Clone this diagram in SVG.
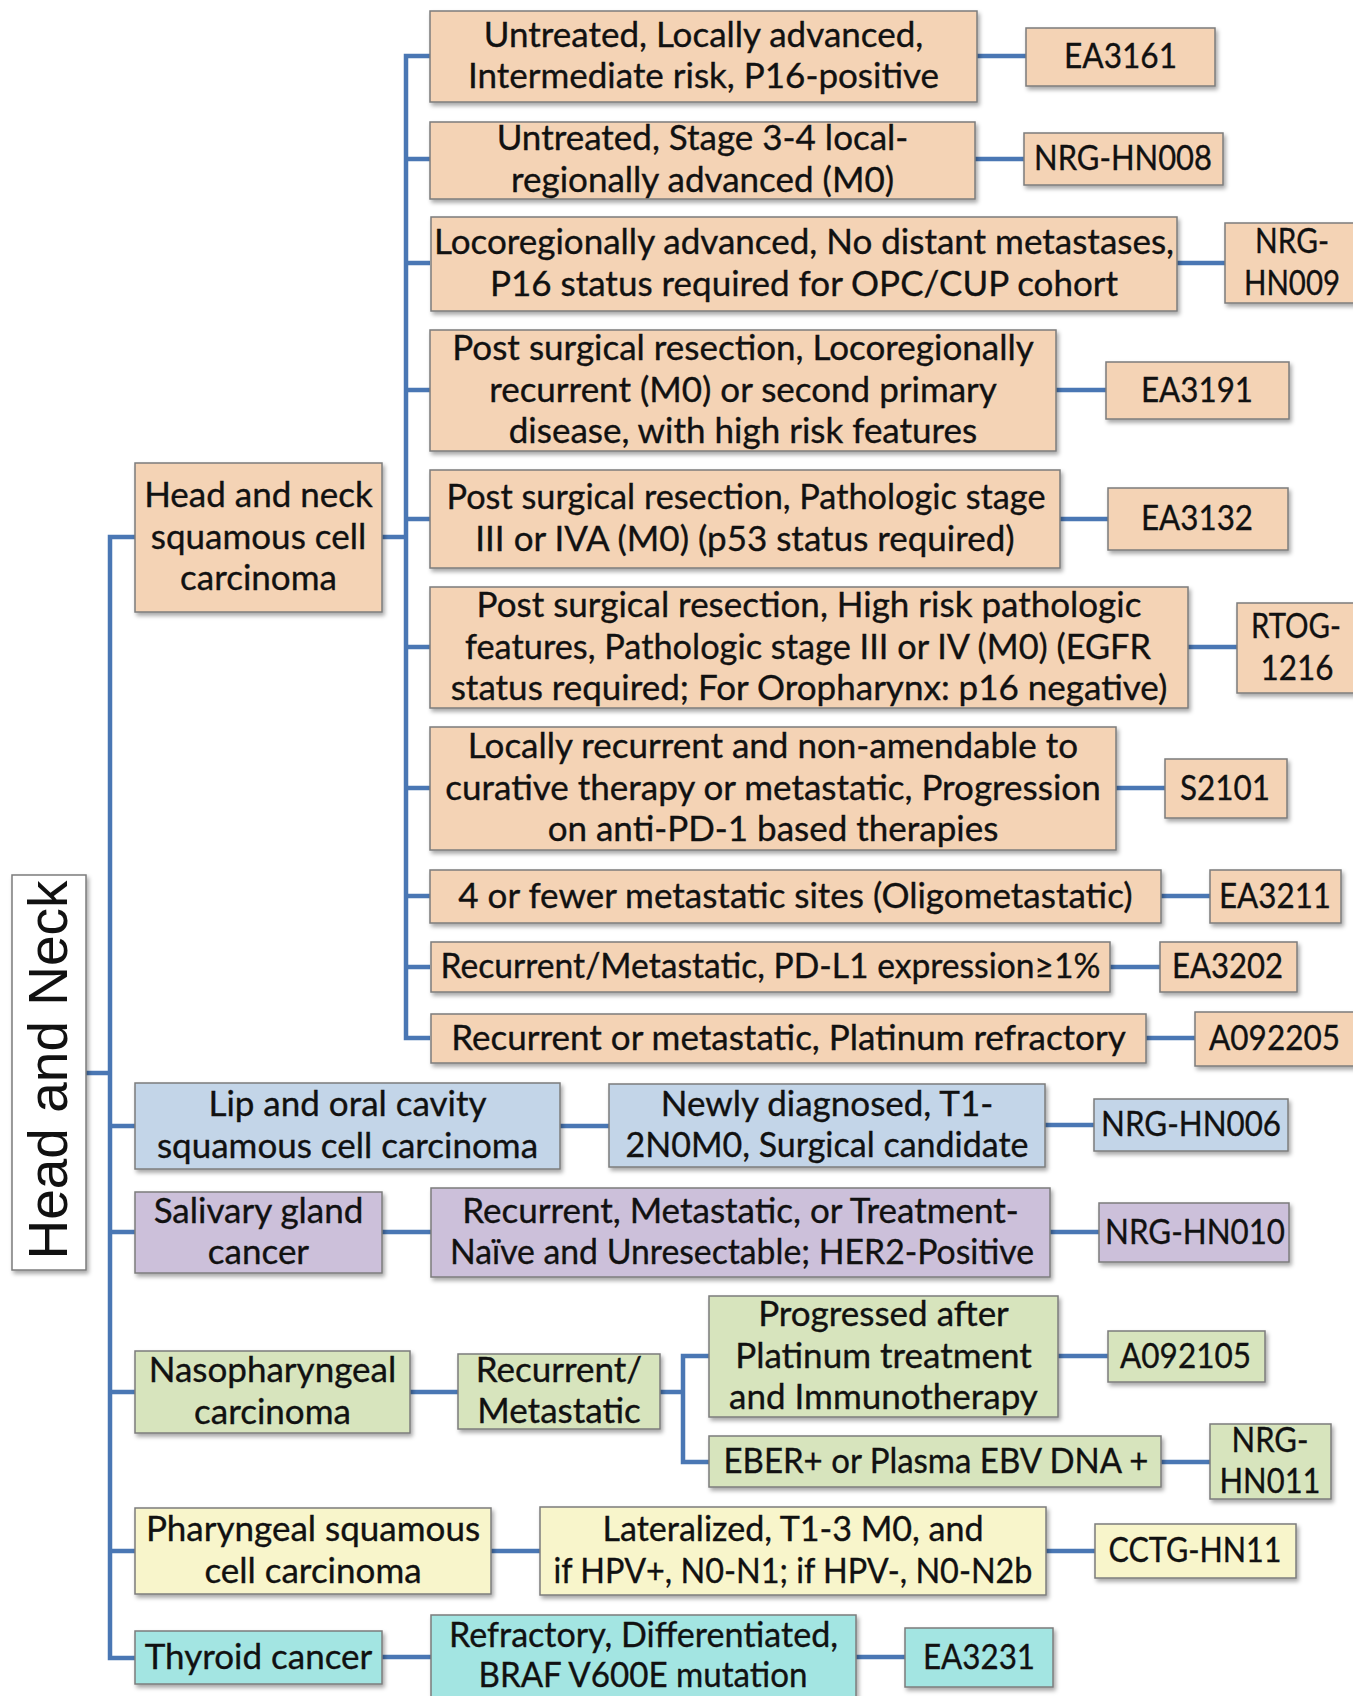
<svg xmlns="http://www.w3.org/2000/svg" width="1353" height="1696" viewBox="0 0 1353 1696">
<defs>
<filter id="sh" x="-10%" y="-10%" width="130%" height="140%">
<feDropShadow dx="2" dy="3" stdDeviation="2" flood-color="#000" flood-opacity="0.35"/>
</filter>
</defs>
<style>
rect{stroke:#7c7c7c;stroke-width:1.5;filter:url(#sh)}
.pe{fill:#F4D3B5}.bl{fill:#C3D5E8}.pu{fill:#CCC0DA}.gr{fill:#D7E4BD}.ye{fill:#F8F5CB}.cy{fill:#A3E5E2}.wh{fill:#FFFFFF}
text{font-family:Lato,"Open Sans",sans-serif;font-size:35px;fill:#111;stroke:#111;stroke-width:0.35px;text-anchor:middle}
.root{font-family:"Liberation Sans",Arial,sans-serif;font-size:55px;stroke:none}
#connectors path{fill:none;stroke:#4A77B4;stroke-width:4.5}
</style>
<rect x="0" y="0" width="1353" height="1696" style="fill:#fff;stroke:none;filter:none"/>
<g id="connectors">
<path d="M86,1073 H110"/>
<path d="M135,537 H110 V1658 H135"/>
<path d="M110,1126 H135 M110,1232 H135 M110,1392 H135 M110,1551 H135"/>
<path d="M382,537 H406"/>
<path d="M430,56 H406 V1038 H430"/>
<path d="M406,159 H430 M406,263 H430 M406,390 H430 M406,519 H430 M406,647 H430 M406,788 H430 M406,896 H430 M406,967 H430"/>
<path d="M977,56 H1026 M975,159 H1024 M1177,263 H1225 M1056,390 H1106 M1060,519 H1108 M1188,647 H1237 M1116,788 H1165 M1161,896 H1210 M1110,967 H1160 M1146,1038 H1195"/>
<path d="M560,1126 H609 M1045,1125 H1094"/>
<path d="M382,1232 H431 M1050,1232 H1099"/>
<path d="M410,1392 H458 M660,1392 H683"/>
<path d="M709,1356 H683 V1462 H709"/>
<path d="M1058,1356 H1108 M1161,1462 H1210"/>
<path d="M491,1551 H540 M1046,1551 H1095"/>
<path d="M382,1657 H431 M856,1657 H905"/>
</g>

<g id="root"><rect class="wh" x="12" y="875" width="74" height="395"/><text class="root" transform="translate(67,1070) rotate(-90)">Head and Neck</text></g>

<g id="hnscc"><rect class="pe" x="135" y="463" width="247" height="149"/><text x="258.5" y="507">Head and neck</text><text x="258.5" y="548.5">squamous cell</text><text x="258.5" y="590">carcinoma</text></g>

<g id="b1"><rect class="pe" x="430" y="11" width="547" height="91"/><text x="703.5" y="46.75">Untreated, Locally advanced,</text><text x="703.5" y="88.25">Intermediate risk, P16-positive</text></g>
<g id="i1"><rect class="pe" x="1026" y="28" width="189" height="58"/><text x="1120.5" y="68" textLength="113" lengthAdjust="spacingAndGlyphs">EA3161</text></g>

<g id="b2"><rect class="pe" x="430" y="122" width="545" height="77"/><text x="702.5" y="150.25">Untreated, Stage 3-4 local-</text><text x="702.5" y="191.75">regionally advanced (M0)</text></g>
<g id="i2"><rect class="pe" x="1024" y="133" width="199" height="52"/><text x="1123" y="170" textLength="178" lengthAdjust="spacingAndGlyphs">NRG-HN008</text></g>

<g id="b3"><rect class="pe" x="431" y="217" width="746" height="94"/><text x="804" y="254.25">Locoregionally advanced, No distant metastases,</text><text x="804" y="295.75">P16 status required for OPC/CUP cohort</text></g>
<g id="i3"><rect class="pe" x="1225" y="223" width="140" height="80"/><text x="1292" y="253.25" textLength="74" lengthAdjust="spacingAndGlyphs">NRG-</text><text x="1292" y="294.75" textLength="96" lengthAdjust="spacingAndGlyphs">HN009</text></g>

<g id="b4"><rect class="pe" x="430" y="330" width="626" height="121"/><text x="743" y="360">Post surgical resection, Locoregionally</text><text x="743" y="401.5">recurrent (M0) or second primary</text><text x="743" y="443">disease, with high risk features</text></g>
<g id="i4"><rect class="pe" x="1106" y="362" width="183" height="57"/><text x="1197" y="401.5" textLength="112" lengthAdjust="spacingAndGlyphs">EA3191</text></g>

<g id="b5"><rect class="pe" x="430" y="470" width="630" height="98"/><text x="746" y="509.25" textLength="599" lengthAdjust="spacingAndGlyphs">Post surgical resection, Pathologic stage</text><text x="745" y="550.75">III or IVA (M0) (p53 status required)</text></g>
<g id="i5"><rect class="pe" x="1108" y="488" width="180" height="62"/><text x="1197" y="530" textLength="112" lengthAdjust="spacingAndGlyphs">EA3132</text></g>

<g id="b6"><rect class="pe" x="430" y="587" width="758" height="121"/><text x="809" y="617">Post surgical resection, High risk pathologic</text><text x="808" y="658.5" textLength="686" lengthAdjust="spacingAndGlyphs">features, Pathologic stage III or IV (M0) (EGFR</text><text x="809" y="700">status required; For Oropharynx: p16 negative)</text></g>
<g id="i6"><rect class="pe" x="1237" y="603" width="126" height="90"/><text x="1296" y="638.25" textLength="90" lengthAdjust="spacingAndGlyphs">RTOG-</text><text x="1297" y="679.75" textLength="73" lengthAdjust="spacingAndGlyphs">1216</text></g>

<g id="b7"><rect class="pe" x="430" y="727" width="686" height="123"/><text x="773" y="758">Locally recurrent and non-amendable to</text><text x="773" y="799.5">curative therapy or metastatic, Progression</text><text x="773" y="841">on anti-PD-1 based therapies</text></g>
<g id="i7"><rect class="pe" x="1165" y="759" width="122" height="59"/><text x="1225" y="799.5" textLength="90" lengthAdjust="spacingAndGlyphs">S2101</text></g>

<g id="b8"><rect class="pe" x="430" y="870" width="731" height="53"/><text x="795.5" y="907.5">4 or fewer metastatic sites (Oligometastatic)</text></g>
<g id="i8"><rect class="pe" x="1210" y="870" width="131" height="53"/><text x="1275" y="907.5" textLength="112" lengthAdjust="spacingAndGlyphs">EA3211</text></g>

<g id="b9"><rect class="pe" x="431" y="942" width="679" height="50"/><text x="770.5" y="978" textLength="660" lengthAdjust="spacingAndGlyphs">Recurrent/Metastatic, PD-L1 expression≥1%</text></g>
<g id="i9"><rect class="pe" x="1160" y="942" width="137" height="50"/><text x="1227.5" y="978" textLength="111" lengthAdjust="spacingAndGlyphs">EA3202</text></g>

<g id="b10"><rect class="pe" x="431" y="1014" width="715" height="49"/><text x="788.5" y="1049.5">Recurrent or metastatic, Platinum refractory</text></g>
<g id="i10"><rect class="pe" x="1195" y="1012" width="160" height="54"/><text x="1274.5" y="1050" textLength="131" lengthAdjust="spacingAndGlyphs">A092205</text></g>

<g id="lip"><rect class="bl" x="135" y="1083" width="425" height="86"/><text x="347.5" y="1116.25">Lip and oral cavity</text><text x="347.5" y="1157.75">squamous cell carcinoma</text></g>
<g id="newly"><rect class="bl" x="609" y="1084" width="436" height="83"/><text x="827" y="1115.75">Newly diagnosed, T1-</text><text x="827" y="1157.25" textLength="403" lengthAdjust="spacingAndGlyphs">2N0M0, Surgical candidate</text></g>
<g id="hn006"><rect class="bl" x="1094" y="1099" width="194" height="52"/><text x="1191" y="1136" textLength="180" lengthAdjust="spacingAndGlyphs">NRG-HN006</text></g>

<g id="salivary"><rect class="pu" x="135" y="1192" width="247" height="81"/><text x="258.5" y="1222.75">Salivary gland</text><text x="258.5" y="1264.25">cancer</text></g>
<g id="recmetp"><rect class="pu" x="431" y="1188" width="619" height="89"/><text x="740.5" y="1222.75">Recurrent, Metastatic, or Treatment-</text><text x="742" y="1264.25" textLength="584" lengthAdjust="spacingAndGlyphs">Naïve and Unresectable; HER2-Positive</text></g>
<g id="hn010"><rect class="pu" x="1099" y="1203" width="190" height="59"/><text x="1195" y="1243.5" textLength="180" lengthAdjust="spacingAndGlyphs">NRG-HN010</text></g>

<g id="naso"><rect class="gr" x="135" y="1351" width="275" height="82"/><text x="272.5" y="1382.25">Nasopharyngeal</text><text x="272.5" y="1423.75">carcinoma</text></g>
<g id="recmet2"><rect class="gr" x="458" y="1354" width="202" height="75"/><text x="559" y="1381.75">Recurrent/</text><text x="559" y="1423.25">Metastatic</text></g>
<g id="progressed"><rect class="gr" x="709" y="1296" width="349" height="121"/><text x="883.5" y="1326">Progressed after</text><text x="883.5" y="1367.5">Platinum treatment</text><text x="883.5" y="1409">and Immunotherapy</text></g>
<g id="a092105"><rect class="gr" x="1108" y="1331" width="157" height="51"/><text x="1185.5" y="1367.5" textLength="131" lengthAdjust="spacingAndGlyphs">A092105</text></g>
<g id="eber"><rect class="gr" x="709" y="1436" width="452" height="51"/><text x="936" y="1472.5" textLength="425" lengthAdjust="spacingAndGlyphs">EBER+ or Plasma EBV DNA +</text></g>
<g id="hn011"><rect class="gr" x="1210" y="1424" width="121" height="75"/><text x="1270" y="1451.75" textLength="77" lengthAdjust="spacingAndGlyphs">NRG-</text><text x="1270" y="1493.25" textLength="101" lengthAdjust="spacingAndGlyphs">HN011</text></g>

<g id="pharyngeal"><rect class="ye" x="135" y="1508" width="356" height="86"/><text x="313" y="1541.25">Pharyngeal squamous</text><text x="313" y="1582.75">cell carcinoma</text></g>
<g id="lateralized"><rect class="ye" x="540" y="1507" width="506" height="88"/><text x="793" y="1541.25" textLength="381" lengthAdjust="spacingAndGlyphs">Lateralized, T1-3 M0, and</text><text x="793" y="1582.75" textLength="479" lengthAdjust="spacingAndGlyphs">if HPV+, N0-N1; if HPV-, N0-N2b</text></g>
<g id="cctg"><rect class="ye" x="1095" y="1524" width="201" height="54"/><text x="1195" y="1562" textLength="173" lengthAdjust="spacingAndGlyphs">CCTG-HN11</text></g>

<g id="thyroid"><rect class="cy" x="135" y="1631" width="247" height="53"/><text x="258.5" y="1668.5">Thyroid cancer</text></g>
<g id="refractory"><rect class="cy" x="431" y="1615" width="425" height="90"/><text x="643.5" y="1646.7" textLength="389" lengthAdjust="spacingAndGlyphs">Refractory, Differentiated,</text><text x="643" y="1686.7" textLength="329" lengthAdjust="spacingAndGlyphs">BRAF V600E mutation</text></g>
<g id="ea3231"><rect class="cy" x="905" y="1628" width="148" height="59"/><text x="979" y="1668.5" textLength="112" lengthAdjust="spacingAndGlyphs">EA3231</text></g>
</svg>
